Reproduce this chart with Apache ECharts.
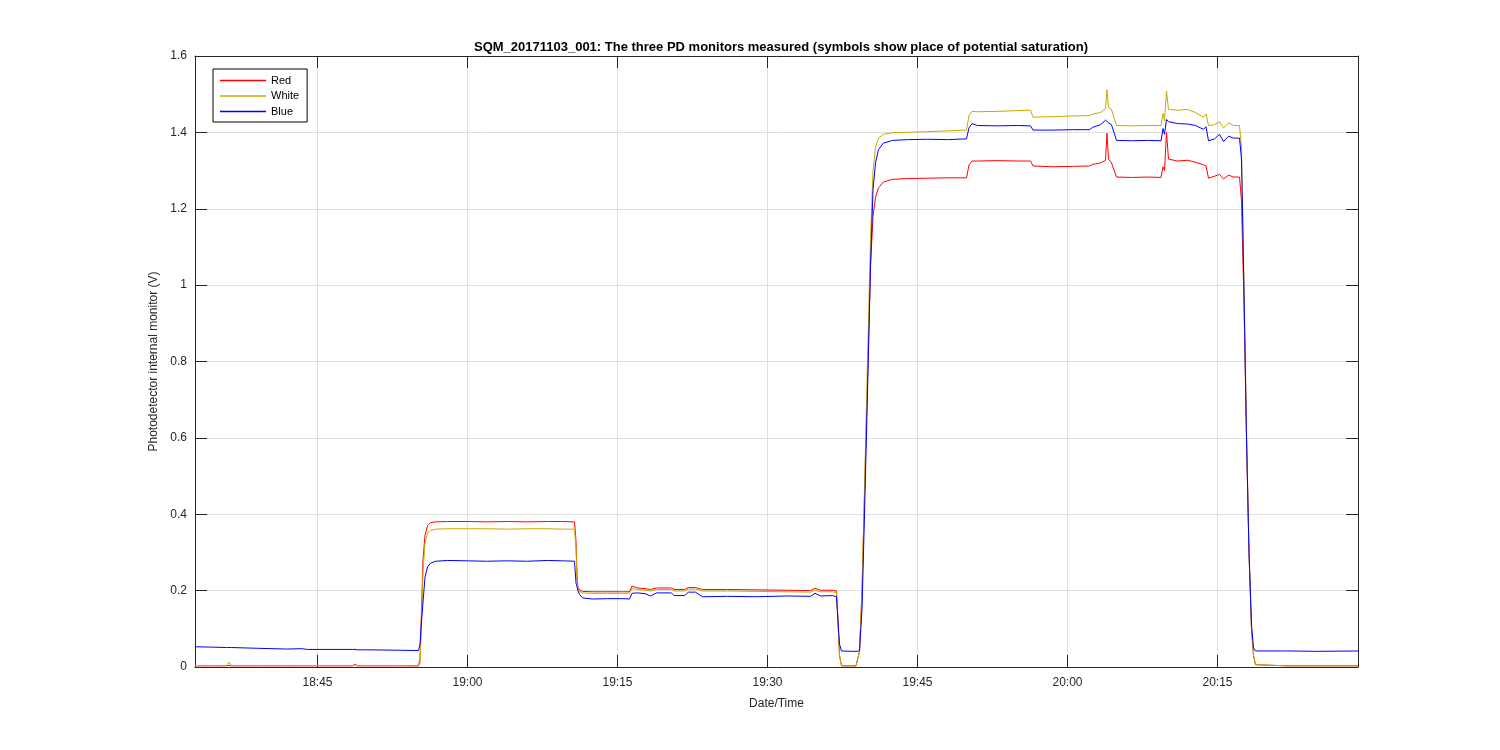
<!DOCTYPE html>
<html><head><meta charset="utf-8">
<script src="https://cdn.jsdelivr.net/npm/echarts@6/dist/echarts.min.js"></script>
<style>html,body{margin:0;padding:0;background:#fff}#c{width:1500px;height:750px}</style>
</head><body><div id="c"></div>
<script>
// ---- data ----
const chartTitle = 'SQM_20171103_001: The three PD monitors measured (symbols show place of potential saturation)';
const xName = 'Date/Time';
const yName = 'Photodetector internal monitor (V)';
const seriesNames = ['Red', 'White', 'Blue'];
const xRange = ['18:32:45', '20:29:03'];
const xTickLabels = ['18:45', '19:00', '19:15', '19:30', '19:45', '20:00', '20:15'];
const yRange = [0, 1.6];

const times = [
 '18:32:45','18:34:30','18:35:54','18:36:09','18:36:24','18:39:00','18:42:00','18:43:24','18:44:00','18:48:30',
 '18:48:45','18:49:00','18:50:00','18:53:00','18:55:06','18:55:15','18:55:24','18:55:33','18:55:45','18:56:00',
 '18:56:18','18:56:48','18:58:00','19:00:00','19:02:00','19:04:00','19:06:00','19:08:00','19:09:30','19:10:42',
 '19:10:51','19:10:57','19:11:03','19:11:12','19:11:30','19:12:30','19:14:00','19:15:30','19:16:12','19:16:27',
 '19:17:00','19:17:45','19:18:18','19:18:30','19:18:54','19:20:24','19:20:39','19:21:42','19:22:06','19:22:48',
 '19:23:30','19:26:00','19:29:00','19:32:00','19:34:18','19:34:45','19:35:18','19:36:30','19:36:54','19:37:03',
 '19:37:12','19:37:24','19:38:30','19:38:51','19:39:12','19:39:27','19:39:42','19:40:00','19:40:18','19:40:33',
 '19:40:48','19:41:06','19:41:36','19:42:30','19:44:00','19:46:00','19:48:00','19:49:54','19:50:09','19:50:27',
 '19:51:00','19:53:00','19:55:00','19:56:18','19:56:33','19:58:30','20:00:30','20:02:12','20:02:30','20:03:18',
 '20:03:48','20:03:57','20:04:06','20:04:24','20:04:54','20:06:30','20:08:00','20:09:21','20:09:33','20:09:42',
 '20:09:54','20:10:06','20:11:00','20:12:00','20:12:48','20:13:36','20:13:51','20:14:06','20:14:42','20:15:12',
 '20:15:36','20:16:06','20:16:36','20:17:12','20:17:24','20:17:39','20:17:54','20:18:09','20:18:24','20:18:36',
 '20:18:48','20:19:00','20:22:00','20:25:00','20:29:03'
];
const red = [
 .003,.003,.003,.004,.003,.003,.003,.003,.003,.003,
 .007,.003,.003,.003,.003,.02,.15,.28,.345,.37,
 .378,.38,.381,.381,.380,.381,.380,.381,.381,.380,
 .33,.24,.205,.2,.198,.197,.197,.197,.197,.212,
 .207,.205,.203,.204,.207,.207,.203,.203,.208,.208,
 .203,.203,.202,.201,.2,.206,.201,.201,.199,.12,
 .03,.003,.003,.003,.04,.2,.45,.75,1.05,1.18,
 1.23,1.255,1.27,1.277,1.279,1.28,1.281,1.281,1.315,1.325,
 1.325,1.326,1.325,1.325,1.312,1.31,1.311,1.312,1.316,1.32,
 1.327,1.398,1.33,1.32,1.283,1.282,1.283,1.282,1.31,1.3,
 1.4,1.33,1.325,1.327,1.322,1.315,1.312,1.28,1.285,1.29,
 1.278,1.288,1.283,1.283,1.22,.95,.6,.3,.1,.03,
 .006,.003,.003,.003,.003
];
const white = [
 .004,.004,.004,.013,.004,.004,.004,.004,.004,.004,
 .005,.004,.004,.004,.003,.01,.12,.25,.325,.35,
 .358,.361,.362,.362,.362,.361,.362,.362,.361,.361,
 .31,.23,.2,.196,.194,.193,.193,.193,.193,.206,
 .203,.201,.199,.2,.203,.203,.199,.199,.204,.204,
 .199,.199,.198,.197,.196,.201,.197,.197,.195,.12,
 .03,.003,.003,.003,.04,.2,.47,.8,1.12,1.3,
 1.36,1.385,1.395,1.399,1.4,1.402,1.404,1.406,1.445,1.455,
 1.454,1.455,1.457,1.458,1.44,1.441,1.443,1.444,1.448,1.452,
 1.462,1.512,1.465,1.46,1.418,1.417,1.418,1.418,1.45,1.43,
 1.508,1.46,1.458,1.46,1.452,1.44,1.448,1.418,1.42,1.428,
 1.412,1.425,1.418,1.418,1.36,1.0,.62,.3,.1,.03,
 .006,.003,.003,.003,.003
];
const blue = [
 .053,.052,.051,.051,.051,.049,.047,.048,.046,.046,
 .046,.045,.045,.044,.043,.06,.12,.17,.235,.262,
 .272,.277,.279,.278,.277,.278,.277,.279,.278,.277,
 .22,.21,.2,.19,.181,.178,.179,.179,.178,.193,
 .194,.192,.186,.183,.194,.194,.187,.187,.196,.196,
 .184,.185,.184,.186,.185,.193,.186,.187,.184,.12,
 .06,.042,.041,.041,.042,.15,.4,.72,1.05,1.25,
 1.32,1.355,1.372,1.379,1.381,1.382,1.381,1.383,1.412,1.423,
 1.418,1.417,1.418,1.417,1.406,1.406,1.407,1.407,1.413,1.42,
 1.432,1.437,1.425,1.42,1.379,1.378,1.379,1.378,1.41,1.395,
 1.434,1.428,1.423,1.422,1.418,1.408,1.415,1.378,1.383,1.395,
 1.376,1.39,1.385,1.385,1.33,.98,.6,.3,.11,.05,
 .042,.041,.042,.041,.042
];
const seriesColors = ['#ff0000', '#c9a800', '#0000ff'];

// ---- helpers: clock time <-> minutes since midnight ----
function toMin(s) {
  const p = s.split(':').map(Number);
  return p[0] * 60 + p[1] + (p[2] || 0) / 60;
}
function pad(n) { return (n < 10 ? '0' : '') + n; }
function fmtMin(v) {
  const m = Math.round(v);
  return pad(Math.floor(m / 60)) + ':' + pad(m % 60);
}

const FONT = "'Liberation Sans', Arial, Helvetica, sans-serif";
const AX = '#262626';
const GRIDC = '#dfdfdf';
const xTickValues = xTickLabels.map(toMin);

const valuesList = [red, white, blue];
const series = seriesNames.map((name, i) => ({
  name: name,
  type: 'line',
  xAxisIndex: 0,
  yAxisIndex: 0,
  data: times.map((t, k) => [toMin(t), valuesList[i][k]]),
  showSymbol: false,
  symbol: 'none',
  lineStyle: { width: 1, color: seriesColors[i] },
  itemStyle: { color: seriesColors[i] },
  emphasis: { disabled: true },
  animation: false,
  z: 2 + i
}));

const xCommon = {
  type: 'value',
  min: toMin(xRange[0]),
  max: toMin(xRange[1]),
  axisLine: { show: true, onZero: false, lineStyle: { color: AX, width: 1 } },
  axisTick: { show: true, inside: true, length: 12, customValues: xTickValues, lineStyle: { color: AX, width: 1 } },
  minorTick: { show: false }
};
const yCommon = {
  type: 'value',
  min: yRange[0],
  max: yRange[1],
  interval: 0.2,
  axisLine: { show: true, onZero: false, lineStyle: { color: AX, width: 1 } },
  axisTick: { show: true, inside: true, length: 12, lineStyle: { color: AX, width: 1 } }
};

const option = {
  animation: false,
  backgroundColor: '#ffffff',
  textStyle: { fontFamily: FONT },
  title: {
    text: chartTitle,
    left: 776,
    top: 36,
    textAlign: 'center',
    textStyle: { fontFamily: FONT, fontSize: 13, fontWeight: 'bold', color: '#000' }
  },
  legend: {
    data: seriesNames,
    orient: 'vertical',
    left: 213,
    top: 69,
    icon: 'rect',
    itemWidth: 46,
    itemHeight: 1.5,
    itemGap: 2.5,
    padding: [5, 8, 4, 7],
    borderColor: '#000',
    borderWidth: 1,
    backgroundColor: '#fff',
    selectedMode: false,
    textStyle: { fontFamily: FONT, fontSize: 11, color: '#000', lineHeight: 13 }
  },
  grid: { left: 195, right: 142, top: 56, bottom: 83, containLabel: false },
  xAxis: [
    Object.assign({}, xCommon, {
      position: 'bottom',
      name: xName,
      nameLocation: 'middle',
      nameGap: 31,
      nameTextStyle: { fontFamily: FONT, fontSize: 12, color: AX },
      axisLabel: { show: true, margin: 10, fontFamily: FONT, fontSize: 12, color: AX,
                   customValues: xTickValues, formatter: fmtMin },
      splitLine: { show: true, lineStyle: { color: GRIDC, width: 1 } }
    }),
    Object.assign({}, xCommon, {
      position: 'top',
      axisLabel: { show: false },
      splitLine: { show: false }
    })
  ],
  yAxis: [
    Object.assign({}, yCommon, {
      position: 'left',
      name: yName,
      nameLocation: 'middle',
      nameGap: 34,
      nameTextStyle: { fontFamily: FONT, fontSize: 12, color: AX },
      axisLabel: { show: true, margin: 8, fontFamily: FONT, fontSize: 12, color: AX },
      splitLine: { show: true, lineStyle: { color: GRIDC, width: 1 } }
    }),
    Object.assign({}, yCommon, {
      position: 'right',
      axisLabel: { show: false },
      splitLine: { show: false }
    })
  ],
  series: series
};

const chart = echarts.init(document.getElementById('c'), null, { renderer: 'canvas' });
chart.setOption(option);
</script>
</body></html>
